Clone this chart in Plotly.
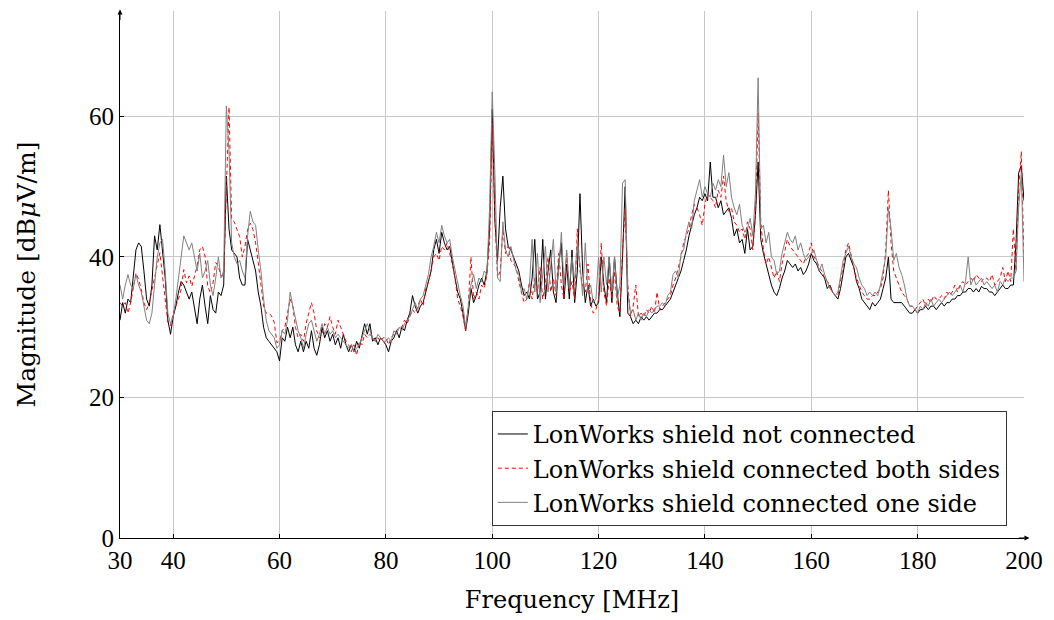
import plotly.graph_objects as go

# Frequency grid (MHz), 0.5 MHz step from 30 to 200
freq = [30 + 0.5 * i for i in range(341)]

# LonWorks shield not connected (black)
not_connected = (
    [31, 33.5, 32, 34, 33.5, 37, 41, 42, 41.5, 38, 34, 33, 36, 43, 41, 44.6, 41, 37, 31, 29]
    + [31.5, 33, 35, 36.5, 36, 35, 34, 35, 33, 30.5, 34, 36, 33, 30.5, 34.5, 32.5, 32, 35, 34.5, 36]
    + [51.5, 44, 41, 40.5, 40, 37, 36, 36, 42.5, 41, 39.5, 38, 35, 33, 30, 28.5, 28, 27.5, 27, 26.5]
    + [25.2, 28.5, 28, 30, 28.5, 30, 27.5, 26.5, 28, 26.5, 28, 27, 29.5, 27, 26, 27.5, 30, 28.5, 29.5, 28]
    + [29, 27.5, 28.5, 27, 29, 27.5, 26.5, 27.5, 26.5, 28, 27, 29, 30.5, 29, 30.5, 28, 28.5, 27.5, 28.5, 28]
    + [27.5, 26.5, 28, 28.5, 29.5, 28.5, 30, 29.5, 31, 32, 34.5, 33, 32, 33, 33.5, 35, 36.5, 38, 41, 42.5]
    + [40.5, 43.5, 42, 41, 41.5, 39, 37, 35, 34, 32, 29.5, 32, 35.5, 33.5, 34.5, 36, 37, 36, 38, 44]
    + [61, 45, 39.5, 47, 51.5, 44, 41.5, 41, 40, 39, 38, 36, 34.5, 35, 34, 37, 42.5, 34, 35, 42.5]
    + [34, 38, 41, 35, 33.5, 39, 42, 34, 39, 34, 41, 33.5, 38, 49, 38, 33.5, 36, 33, 34, 33]
    + [33.5, 40, 36, 33.5, 40, 33.5, 40, 35, 31.5, 40, 50, 32, 31.5, 30.5, 31, 30.5, 31.5, 31, 31.5, 31]
    + [31.5, 32, 32, 32.5, 32.5, 33, 33.5, 34, 35, 36, 37, 38, 39.5, 41, 43, 44.5, 46, 47, 48.5, 48]
    + [49, 48, 53.5, 48.5, 48.5, 47, 48, 46, 46.5, 47, 45.5, 43, 44, 42, 42.5, 40.5, 44, 41, 41.5, 46]
    + [53.5, 42.5, 40.5, 39, 37.5, 36, 35, 34.5, 35.5, 37, 38, 39.5, 39, 38.5, 39, 38, 38.5, 37.5, 38, 39]
    + [40.5, 39.5, 39, 38, 37.5, 37, 35.5, 36, 35, 34.5, 34, 35.5, 38, 40, 40.5, 39.5, 38.5, 36.5, 35.5, 34]
    + [33.5, 33, 32.5, 33.5, 33, 33.5, 34, 35.5, 37, 40, 34, 33.5, 33.5, 33.5, 33.5, 33, 32.5, 32, 32, 32.5]
    + [32, 32.5, 32.5, 33, 32.5, 33, 33, 32.5, 33, 33.5, 33, 33.5, 33.5, 34, 34, 34.5, 34.5, 35, 35, 35.5]
    + [35.5, 35, 35.5, 35, 35.8, 35.5, 35.5, 35, 35, 34.5, 35, 35.5, 36, 35.5, 35.5, 36, 36, 42, 52, 53]
    + [48]
)

# LonWorks shield connected both sides (red dashed)
both_sides = (
    [33.5, 33, 33.5, 32, 33.5, 35.5, 37.7, 36.8, 35.4, 33.5, 32.5, 33.5, 35.4, 36.8, 39.2, 40.6, 37.3, 33.5, 30.7, 30.2]
    + [32, 33, 34, 35.4, 38.2, 36.3, 37.3, 35.8, 37.3, 38.7, 41, 41.5, 40.1, 35.8, 34.9, 36.3, 39.2, 38.7, 37.3, 37.3]
    + [49.5, 61.3, 45.3, 45, 43.9, 42.9, 40, 41.5, 43.9, 44.8, 43.9, 42, 39.2, 36.3, 33, 32, 32, 31.6, 30.7, 27.8]
    + [28, 29.5, 30, 32, 34, 33, 30, 28.5, 29, 28, 30.5, 32, 33.5, 32, 29.5, 28.5, 29, 30.5, 30, 31.5]
    + [30, 29, 31, 30, 29, 28, 27.5, 26.5, 27.5, 26, 28, 27.5, 29, 28.5, 29, 28.5, 28, 28.5, 28, 28.5]
    + [28.5, 27.5, 28.5, 29, 29.5, 30, 30, 31, 30.5, 31.5, 32.5, 32, 33, 34, 33, 35.5, 36.5, 38, 40, 40.5]
    + [39.5, 41.5, 41, 42, 40.5, 39, 37, 34, 33, 31.5, 29.5, 33, 40, 34, 35, 34, 36, 35.5, 37.5, 42]
    + [59, 46, 37, 38, 44, 40.5, 41.5, 39.5, 39, 38.5, 36.5, 35, 33.5, 34, 36.5, 34, 37, 35, 38.5, 34]
    + [36, 40, 35, 37, 34.5, 40.5, 36, 34, 40.5, 35, 36.5, 34, 44, 38, 36, 35, 39, 33.5, 32, 32.5]
    + [34, 42, 35, 33, 37, 34, 38, 33, 32, 41, 47, 36, 31.5, 33, 36, 31.5, 32, 31.5, 32.5, 32]
    + [33, 32, 35, 32.5, 33, 33.5, 34, 34.5, 36, 37, 38.5, 40, 42, 43, 44, 46, 47.5, 47, 46, 44.5]
    + [47.5, 49, 48.5, 48, 47, 49.5, 48.5, 51.5, 48, 46.5, 47, 45, 44.5, 43.5, 44, 42.5, 45, 44, 41, 46]
    + [60.5, 45, 41, 39, 40, 38.5, 37, 38, 36.5, 39, 41, 42.5, 41.5, 41, 40.5, 40, 39.5, 39, 40, 40.5]
    + [42, 40, 39.5, 38.5, 38, 37, 36.5, 36, 35, 34.5, 34.5, 36.5, 39, 41, 42, 40, 38.5, 37, 36, 35]
    + [34.5, 34, 34, 34.5, 34.5, 35, 35.5, 37, 41, 49.5, 42, 38, 37, 36, 35, 34.5, 34, 33, 33, 32.5]
    + [33, 33.5, 34, 33, 34, 33.5, 34.5, 34, 34, 34.5, 34, 35, 34.5, 35, 36, 35, 36, 36.5, 36, 36.5]
    + [37, 36.5, 37.5, 37, 36.5, 37, 37, 36.5, 37.5, 36, 36.5, 37, 38.5, 36.5, 38, 36.5, 44, 38, 50, 55]
    + [39.5]
)

# LonWorks shield connected one side (gray)
one_side = (
    [36, 34, 36, 37.5, 36, 35.5, 37.5, 36, 35, 33, 31, 30.5, 32, 36, 40, 42, 42.5, 38, 32, 30.5]
    + [31.5, 34, 37, 40.5, 43, 42, 41, 42, 40, 38, 40.5, 37, 38, 39.5, 36, 34.5, 37, 40, 37, 38]
    + [61.5, 55, 42, 40, 39, 39.5, 38, 37, 43, 46.5, 45, 44.5, 41, 38, 34, 31, 29.5, 29, 28.5, 27]
    + [27.5, 29.5, 29, 31, 35, 33, 31, 29.5, 28.5, 27, 29, 30.5, 31, 29.5, 28, 29, 30.5, 29, 30, 29]
    + [29.5, 28.5, 29, 28.5, 28, 27.5, 27, 27.5, 26.5, 27, 27.5, 28.5, 29.5, 30.5, 29.5, 28.5, 28, 29, 28.5, 28]
    + [28, 28.5, 28, 29.5, 29, 30, 29.5, 30.5, 31, 31.5, 32.5, 33.5, 32.5, 34, 34.5, 36, 37.5, 40, 41.5, 43.5]
    + [42, 44.5, 43, 42, 42.5, 40, 38, 36, 34.5, 33, 30, 33, 36, 37.5, 35.5, 37, 36.5, 38, 37.5, 47]
    + [63.5, 52, 37, 36.5, 45, 41, 40, 41.5, 39.5, 38, 37.5, 35, 35.5, 34, 36, 42.5, 35, 40.5, 33.5, 38]
    + [41.5, 35, 39, 42.5, 35, 38, 43.5, 36, 41, 35.5, 40, 36.5, 42, 39, 34.5, 42, 35, 36, 33.5, 34]
    + [40, 35, 40, 36, 40, 35, 40, 34, 36, 50.5, 51, 35, 32, 32.5, 31, 32, 31, 32, 31.5, 32.5]
    + [32, 32.5, 33, 33, 33.5, 33, 34.5, 35, 37.5, 38, 37, 40.5, 41, 43.5, 45, 44, 48, 49.5, 51, 48.5]
    + [50, 49, 48.5, 50.5, 49.5, 51, 50, 54.5, 50, 52, 48.5, 47, 46, 47.5, 44.5, 43.5, 44, 45.5, 43, 49]
    + [65.5, 44, 44.5, 42, 43.5, 40, 39.5, 37.5, 38, 40.5, 42, 43.5, 42.5, 42, 43, 41, 42, 40.5, 39.5, 40]
    + [40.5, 41, 39.5, 38, 39, 37.5, 36.5, 35.5, 35, 34.5, 35, 37, 39.5, 40.5, 41.5, 40, 39, 38.5, 37, 36]
    + [35.5, 34.5, 35, 34.5, 35, 34.5, 36, 38, 40, 47, 44, 39.5, 40.5, 38.5, 37.5, 36, 34, 33, 33, 32.5]
    + [32, 33, 32.5, 33.5, 33, 34, 33, 33.5, 34, 33.5, 34, 34.5, 35, 34.5, 35, 35.5, 36, 35, 36.5, 40]
    + [36, 37, 36, 36.5, 37, 36, 36.5, 36, 35.5, 36, 35, 36.5, 36, 37, 36.5, 37, 37, 38, 47, 52]
    + [36.5]
)

x_ticks = [30, 40, 60, 80, 100, 120, 140, 160, 180, 200]
y_ticks = [0, 20, 40, 60]
names = [
    "LonWorks shield not connected",
    "LonWorks shield connected both sides",
    "LonWorks shield connected one side",
]

TICK_FONT = "Liberation Serif"
TEXT_FONT = "DejaVu Serif"

fig = go.Figure()
fig.add_trace(go.Scatter(x=freq, y=not_connected, mode="lines", name=names[0],
                         line=dict(color="black", width=1)))
fig.add_trace(go.Scatter(x=freq, y=both_sides, mode="lines", name=names[1],
                         line=dict(color="red", width=1, dash="4px,3px")))
fig.add_trace(go.Scatter(x=freq, y=one_side, mode="lines", name=names[2],
                         line=dict(color="#808080", width=1)))

axis_common = dict(
    showgrid=True, gridcolor="#c8c8c8", gridwidth=1,
    showline=True, linecolor="black", linewidth=1,
    ticks="inside", ticklen=4, tickcolor="black",
    zeroline=False, mirror=False,
    tickfont=dict(family=TICK_FONT, size=25, color="black"),
)

fig.update_layout(
    width=1054, height=620,
    margin=dict(l=120, r=29, t=11, b=80),
    paper_bgcolor="white", plot_bgcolor="white",
    font=dict(family=TICK_FONT, color="black"),
    xaxis=dict(range=[30, 200], tickvals=x_ticks, **axis_common,
               title=dict(text="Frequency [MHz]", font=dict(family=TEXT_FONT, size=24), standoff=18)),
    yaxis=dict(range=[0, 75], tickvals=y_ticks, **axis_common,
               title=dict(text="Magnitude [dB<i>μ</i>V/m]", font=dict(family=TEXT_FONT, size=25), standoff=46)),
    legend=dict(x=0.981, xanchor="right", y=0.023, yanchor="bottom",
                bgcolor="white", bordercolor="#333333", borderwidth=1,
                font=dict(family=TEXT_FONT, size=24, color="black"), tracegroupgap=0),
    showlegend=True,
    annotations=[
        dict(x=1.006, y=0, xref="paper", yref="paper", ax=-12, ay=0,
             showarrow=True, arrowhead=2, arrowsize=1, arrowwidth=1, arrowcolor="black", text=""),
        dict(x=0, y=1.003, xref="paper", yref="paper", ax=0, ay=12,
             showarrow=True, arrowhead=2, arrowsize=1, arrowwidth=1, arrowcolor="black", text=""),
    ],
)

fig.write_html("out.html")
